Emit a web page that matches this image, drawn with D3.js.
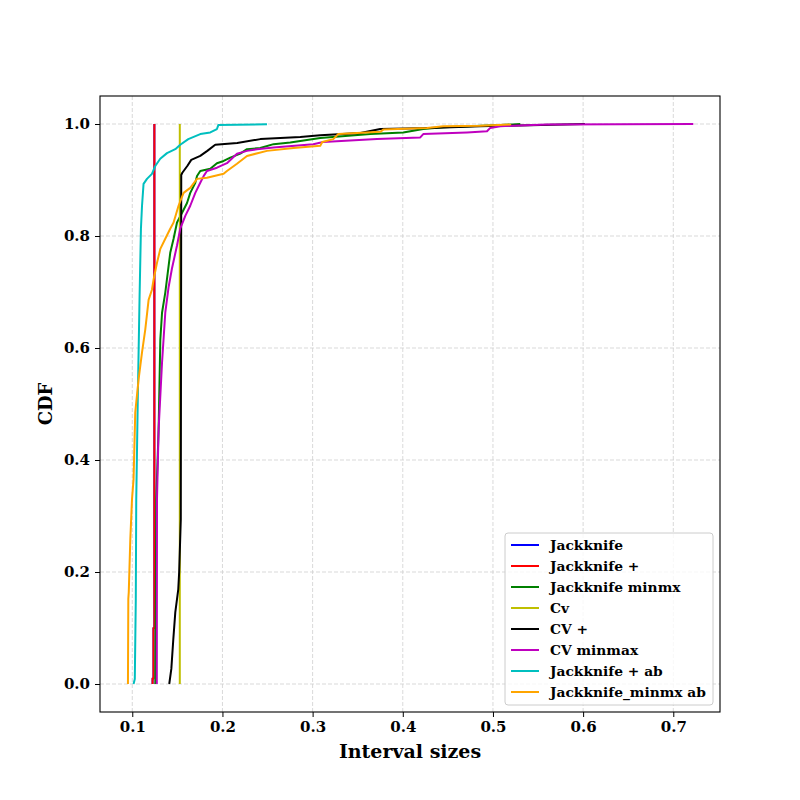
<!DOCTYPE html>
<html>
<head>
<meta charset="utf-8">
<script src="https://cdn.jsdelivr.net/npm/d3@7"></script>
<style>
  body { margin: 0; background: #fff; }
  text { font-family: "DejaVu Serif", serif; font-weight: bold; }
</style>
</head>
<body>
<div id="chart"></div>
<script>
// Series names and colours (legend order = draw order)
const seriesNames = ["Jackknife", "Jackknife +", "Jackknife minmx", "Cv", "CV +",
                     "CV minmax", "Jackknife + ab", "Jackknife_minmx ab"];
const seriesColors = ["#0000ff", "#ff0000", "#008000", "#bfbf00", "#000000",
                      "#bf00bf", "#00bfbf", "#ffa500"];

// CDF traces: interval size (x) and cumulative fraction (y)
const jackknifeX = [0.1225, 0.1225, 0.1235, 0.1235, 0.1245, 0.1245];
const jackknifeY = [0.0, 0.01, 0.01, 0.1, 0.1, 1.0];

const jackknifePlusX = [0.1225, 0.1225, 0.1235, 0.1235, 0.1245, 0.1245];
const jackknifePlusY = [0.0, 0.01, 0.01, 0.1, 0.1, 1.0];

const jackknifeMinmxX = [0.1255, 0.1261, 0.1266, 0.1292, 0.1311, 0.133, 0.1366, 0.1421, 0.1458, 0.1496,
  0.1551, 0.1607, 0.1643, 0.1699, 0.1718, 0.1754, 0.1865, 0.1939, 0.2013, 0.2087, 0.2198, 0.2272,
  0.2419, 0.2567, 0.2752, 0.3085, 0.364, 0.4005, 0.4227, 0.4449, 0.5081, 0.5303];
const jackknifeMinmxY = [0.0, 0.152, 0.33, 0.455, 0.615, 0.663, 0.699, 0.77, 0.795, 0.824,
  0.841, 0.859, 0.877, 0.895, 0.907, 0.916, 0.92, 0.93, 0.934, 0.94, 0.947, 0.955,
  0.957, 0.964, 0.967, 0.975, 0.982, 0.985, 0.991, 0.994, 0.998, 1.0];

const cvX = [0.1527, 0.1527];
const cvY = [0.0, 1.0];

const cvPlusX = [0.141, 0.1433, 0.1455, 0.1477, 0.151, 0.152, 0.1538, 0.1543, 0.1555, 0.161, 0.1654,
  0.1754, 0.1832, 0.192, 0.2164, 0.242, 0.2863, 0.3085, 0.353, 0.375, 0.43, 0.486, 0.602];
const cvPlusY = [0.0, 0.027, 0.08, 0.128, 0.169, 0.2, 0.294, 0.909, 0.913, 0.925, 0.936,
  0.943, 0.952, 0.963, 0.966, 0.973, 0.977, 0.98, 0.984, 0.991, 0.993, 0.996, 1.0];

const cvMinmaxX = [0.1272, 0.1274, 0.1292, 0.133, 0.1366, 0.1403, 0.144, 0.1496, 0.1532, 0.1588, 0.1643,
  0.1699, 0.1754, 0.1791, 0.1828, 0.1939, 0.205, 0.2161, 0.2272, 0.2383, 0.2567, 0.3007, 0.3118,
  0.3714, 0.4194, 0.4227, 0.4712, 0.4934, 0.497, 0.5081, 0.5225, 0.5599, 0.7222];
const cvMinmaxY = [0.0, 0.33, 0.455, 0.574, 0.663, 0.709, 0.742, 0.783, 0.813, 0.836, 0.854,
  0.877, 0.895, 0.907, 0.916, 0.922, 0.93, 0.947, 0.952, 0.955, 0.958, 0.964, 0.968,
  0.973, 0.976, 0.982, 0.985, 0.987, 0.993, 0.996, 0.997, 0.999, 1.0];

const jackknifePlusAbX = [0.1014, 0.1028, 0.1039, 0.1044, 0.1061, 0.1081, 0.1096, 0.1108, 0.1125, 0.1163,
  0.1218, 0.1255, 0.131, 0.1385, 0.1477, 0.1532, 0.1621, 0.1754, 0.1865, 0.1939, 0.1954, 0.2494];
const jackknifePlusAbY = [0.0, 0.009, 0.152, 0.33, 0.508, 0.693, 0.813, 0.854, 0.893, 0.902,
  0.911, 0.925, 0.938, 0.948, 0.955, 0.963, 0.973, 0.982, 0.985, 0.991, 0.998, 0.9995];

const jackknifeMinmxAbX = [0.0952, 0.0956, 0.0961, 0.0978, 0.0997, 0.1014, 0.1033, 0.107, 0.1108, 0.1144,
  0.1181, 0.1218, 0.1236, 0.1274, 0.1311, 0.1366, 0.1421, 0.1458, 0.1513, 0.1569, 0.1643, 0.1718,
  0.1828, 0.2013, 0.205, 0.2161, 0.2272, 0.2494, 0.2789, 0.3085, 0.3107, 0.3229, 0.3285, 0.375,
  0.3784, 0.4268, 0.4449, 0.4859, 0.5192, 0.5192];
const jackknifeMinmxAbY = [0.0, 0.152, 0.164, 0.258, 0.33, 0.365, 0.485, 0.544, 0.592, 0.633,
  0.686, 0.704, 0.722, 0.752, 0.777, 0.795, 0.813, 0.824, 0.854, 0.877, 0.886, 0.902,
  0.904, 0.911, 0.916, 0.929, 0.943, 0.952, 0.957, 0.961, 0.968, 0.973, 0.982, 0.986,
  0.99, 0.993, 0.996, 0.997, 0.999, 1.0];

const seriesX = [jackknifeX, jackknifePlusX, jackknifeMinmxX, cvX, cvPlusX, cvMinmaxX, jackknifePlusAbX, jackknifeMinmxAbX];
const seriesY = [jackknifeY, jackknifePlusY, jackknifeMinmxY, cvY, cvPlusY, cvMinmaxY, jackknifePlusAbY, jackknifeMinmxAbY];

const xTicks = [0.1, 0.2, 0.3, 0.4, 0.5, 0.6, 0.7];
const yTicks = [0.0, 0.2, 0.4, 0.6, 0.8, 1.0];

// Layout (matplotlib-like axes box)
const margin = { top: 96, right: 80, bottom: 88, left: 100 };
const width = 800 - margin.left - margin.right;
const height = 800 - margin.top - margin.bottom;

const svg = d3.select("#chart")
    .append("svg")
    .attr("width", 800)
    .attr("height", 800);

const g = svg.append("g")
    .attr("transform", `translate(${margin.left},${margin.top})`);

const x = d3.scaleLinear().domain([0.0642, 0.7518]).range([0, width]);
const y = d3.scaleLinear().domain([-0.05, 1.05]).range([height, 0]);

// Grid
g.append("g").selectAll("line")
    .data(xTicks)
    .join("line")
    .attr("x1", d => x(d)).attr("x2", d => x(d))
    .attr("y1", 0).attr("y2", height)
    .attr("stroke", "#cfcfcf").attr("stroke-width", 0.8)
    .attr("stroke-dasharray", "4,2");

g.append("g").selectAll("line")
    .data(yTicks)
    .join("line")
    .attr("y1", d => y(d)).attr("y2", d => y(d))
    .attr("x1", 0).attr("x2", width)
    .attr("stroke", "#cfcfcf").attr("stroke-width", 0.8)
    .attr("stroke-dasharray", "4,2");

// Lines
const line = d3.line()
    .x(d => x(d[0]))
    .y(d => y(d[1]));

svg.append("defs").append("clipPath").attr("id", "clip")
    .append("rect").attr("width", width).attr("height", height);

g.append("g")
    .attr("clip-path", "url(#clip)")
    .selectAll("path")
    .data(seriesNames.map((name, i) => d3.zip(seriesX[i], seriesY[i])))
    .join("path")
    .attr("d", line)
    .attr("fill", "none")
    .attr("stroke", (d, i) => seriesColors[i])
    .attr("stroke-width", 2)
    .attr("stroke-linejoin", "round");

// Axes
const xAxis = g.append("g")
    .attr("transform", `translate(0,${height})`)
    .call(d3.axisBottom(x).tickValues(xTicks).tickFormat(d3.format(".1f")).tickSizeOuter(0).tickSize(5).tickPadding(4));

const yAxis = g.append("g")
    .call(d3.axisLeft(y).tickValues(yTicks).tickFormat(d3.format(".1f")).tickSizeOuter(0).tickSize(5).tickPadding(5));

[xAxis, yAxis].forEach(a => {
    a.select(".domain").remove();
    a.selectAll("text").style("font-size", "15px").attr("fill", "#000");
    a.selectAll("line").attr("stroke", "#000").attr("stroke-width", 1);
});

// Frame
g.append("rect")
    .attr("width", width)
    .attr("height", height)
    .attr("fill", "none")
    .attr("stroke", "#000")
    .attr("stroke-width", 1.1);

// Axis labels
svg.append("text")
    .attr("x", margin.left + width / 2)
    .attr("y", 758)
    .attr("text-anchor", "middle")
    .style("font-size", "19px")
    .text("Interval sizes");

svg.append("text")
    .attr("transform", `translate(52,${margin.top + height / 2}) rotate(-90)`)
    .attr("text-anchor", "middle")
    .style("font-size", "18px")
    .text("CDF");

// Legend
const legend = svg.append("g").attr("transform", "translate(505,533)");

legend.append("rect")
    .attr("width", 208)
    .attr("height", 172)
    .attr("rx", 3)
    .attr("fill", "#fff")
    .attr("fill-opacity", 0.8)
    .attr("stroke", "#cccccc");

const items = legend.selectAll("g.item")
    .data(seriesNames)
    .join("g")
    .attr("class", "item")
    .attr("transform", (d, i) => `translate(0,${12 + i * 21})`);

items.append("line")
    .attr("x1", 6).attr("x2", 34)
    .attr("stroke", (d, i) => seriesColors[i])
    .attr("stroke-width", 2);

items.append("text")
    .attr("x", 45)
    .attr("dy", "0.35em")
    .style("font-size", "13.8px")
    .text(d => d);
</script>
</body>
</html>
